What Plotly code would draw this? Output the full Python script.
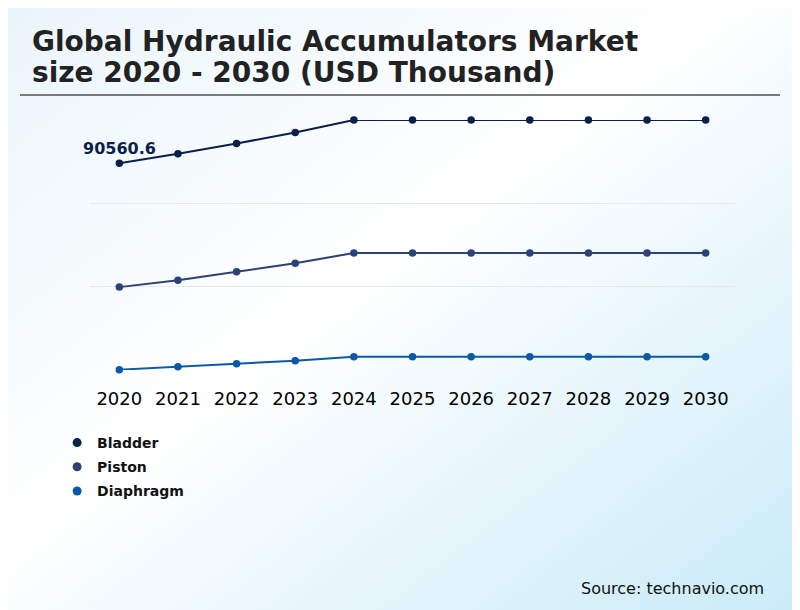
import plotly.graph_objects as go

# Данные (USD Thousand)
YEARS = [2020, 2021, 2022, 2023, 2024, 2025, 2026, 2027, 2028, 2029, 2030]
BLADDER = [90560.6, 94700, 99200, 104000, 109500, 109500, 109500, 109500, 109500, 109500, 109500]
PISTON = [36300, 39350, 43000, 46800, 51250, 51250, 51250, 51250, 51250, 51250, 51250]
DIAPHRAGM = [150, 1450, 2780, 4100, 5850, 5850, 5850, 5850, 5850, 5850, 5850]

SERIES = [
    ("Bladder", BLADDER, "#0b1f4b"),
    ("Piston", PISTON, "#2c4175"),
    ("Diaphragm", DIAPHRAGM, "#0b58a8"),
]
GRID_VALUES = [0, 36500, 73000, 109500]

FONT = "DejaVu Sans"
W, H = 792, 602  # страница добавляет 8px отступа
ML, MR, MT, MB = 82, 65, 112, 240
PW, PH = W - ML - MR, H - MT - MB

# фон-градиент (svg в data uri)
BG_SVG = (
    "data:image/svg+xml;utf8,"
    "<svg xmlns='http://www.w3.org/2000/svg' width='800' height='610' preserveAspectRatio='none'>"
    "<defs><linearGradient id='g' x1='0' y1='0' x2='1' y2='1'>"
    "<stop offset='0' stop-color='%23eaf5fb'/>"
    "<stop offset='0.45' stop-color='%23ffffff'/>"
    "<stop offset='1' stop-color='%23c9ebf8'/>"
    "</linearGradient></defs>"
    "<rect width='800' height='610' fill='url(%23g)'/></svg>"
)

fig = go.Figure()

for name, values, color in SERIES:
    fig.add_trace(go.Scatter(
        x=YEARS, y=values, mode="lines+markers", name=name,
        line=dict(color=color, width=2),
        marker=dict(color=color, size=7.5),
        cliponaxis=False, showlegend=False,
    ))

# легенда — только точки
for name, values, color in SERIES:
    fig.add_trace(go.Scatter(
        x=[None], y=[None], mode="markers", name=name, legendgroup=name,
        marker=dict(color=color, size=9),
    ))

# подпись первого значения
fig.add_annotation(
    x=YEARS[0], y=BLADDER[0], text=f"<b>{BLADDER[0]}</b>", showarrow=False,
    yshift=15, font=dict(family=FONT, size=16, color=SERIES[0][2]),
)

# заголовок двумя строками
fig.add_annotation(
    xref="paper", yref="paper", x=-0.093, y=1.314, xanchor="left", yanchor="middle",
    text="<b>Global Hydraulic Accumulators Market</b>", showarrow=False,
    font=dict(family=FONT, size=28, color="#222222"),
)
fig.add_annotation(
    xref="paper", yref="paper", x=-0.093, y=1.19, xanchor="left", yanchor="middle",
    text="<b>size 2020 - 2030 (USD Thousand)</b>", showarrow=False,
    font=dict(family=FONT, size=28, color="#222222"),
)
fig.add_annotation(
    xref="paper", yref="paper", x=1.048, y=-0.872, xanchor="right", yanchor="middle",
    text="Source: technavio.com", showarrow=False,
    font=dict(family=FONT, size=16, color="#111111"),
)

fig.add_shape(
    type="line", xref="paper", yref="paper", x0=-0.1085, x1=1.0698, y0=1.1, y1=1.1,
    line=dict(color="#7a7a7a", width=2),
)

fig.add_layout_image(dict(
    source=BG_SVG, xref="paper", yref="paper", x=-ML / PW, y=1 + MT / PH,
    sizex=W / PW, sizey=H / PH, sizing="stretch", layer="below",
    xanchor="left", yanchor="top",
))

fig.update_layout(
    width=W, height=H,
    margin=dict(l=ML, r=MR, t=MT, b=MB),
    paper_bgcolor="#ffffff",
    plot_bgcolor="rgba(0,0,0,0)",
    font=dict(family=FONT, color="#000000"),
    xaxis=dict(
        range=[2019.5, 2030.5], tickvals=YEARS, showgrid=False, zeroline=False,
        showline=False, tickfont=dict(family=FONT, size=18, color="#000000"),
        ticklabelstandoff=16,
    ),
    yaxis=dict(
        range=[0, 109500], tickvals=GRID_VALUES, showticklabels=False,
        gridcolor="#e6e8ea", gridwidth=1, zeroline=False, showline=False,
    ),
    legend=dict(
        x=-0.051, y=-0.228, xanchor="left", yanchor="top",
        font=dict(family=FONT, size=14, color="#111111", weight="bold"),
        bgcolor="rgba(0,0,0,0)", itemwidth=30, tracegroupgap=3,
    ),
)

fig.write_html("out.html")
